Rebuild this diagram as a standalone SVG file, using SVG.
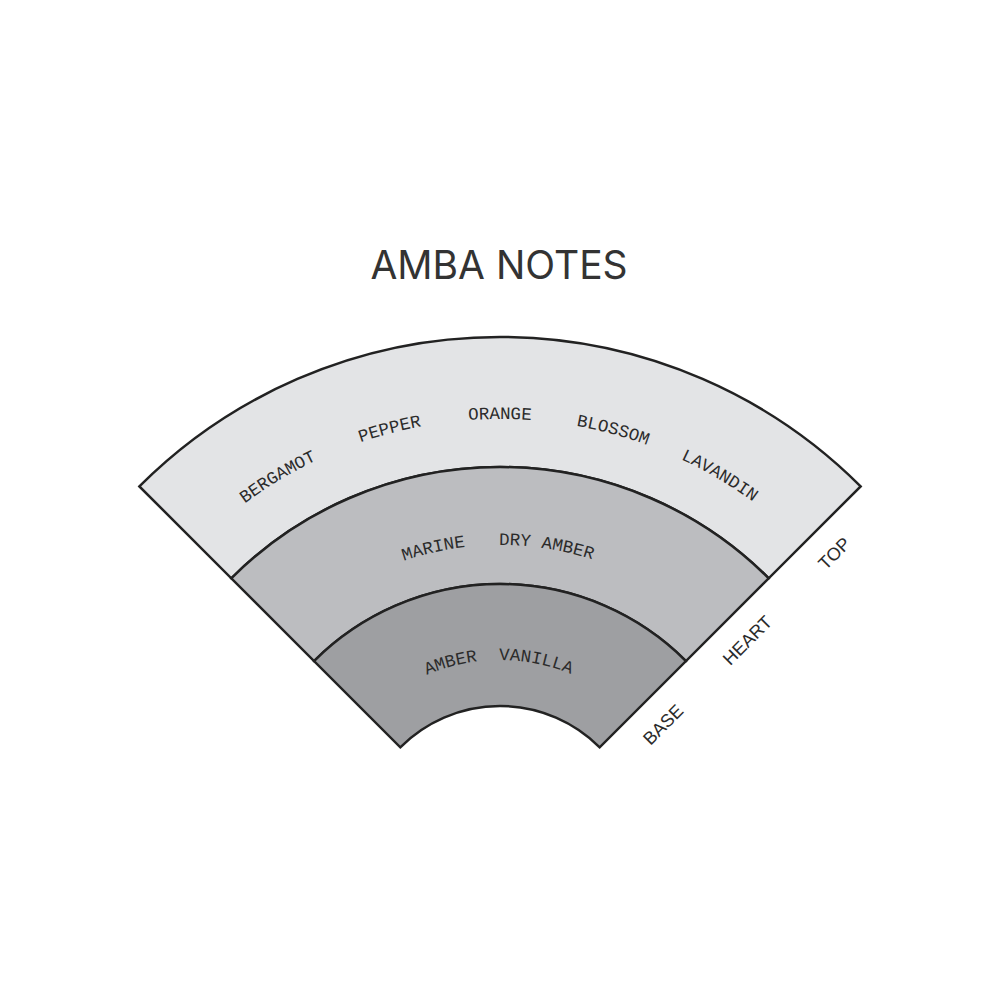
<svg xmlns="http://www.w3.org/2000/svg" xmlns:xlink="http://www.w3.org/1999/xlink" width="1000" height="1000" viewBox="0 0 1000 1000">
  <style>
    .band { stroke: #222; stroke-width: 2.5; stroke-linejoin: miter; }
    .note { font-family: "Liberation Mono", "DejaVu Sans Mono", monospace; font-size: 17.5px; fill: #2b2b2b; text-anchor: middle; }
    .layer { font-family: "Liberation Sans", Arial, sans-serif; font-size: 18px; fill: #2b2b2b; text-anchor: middle; }
    .title { font-family: Inter, "Liberation Sans", sans-serif; font-size: 39px; fill: #333; text-anchor: middle; }
  </style>
  <defs>
    <path id="arcTop" d="M 72 847 A 428 428 0 0 1 928 847"/>
    <path id="arcHeart" d="M 198 847 A 302 302 0 0 1 802 847"/>
    <path id="arcBase" d="M 313 847 A 187 187 0 0 1 687 847"/>
  </defs>
  <rect width="1000" height="1000" fill="#fff"/>
  <g id="title">
    <text class="title" x="499" y="279">AMBA NOTES</text>
  </g>
  <g id="top-band">
    <path class="band" fill="#e3e4e6" d="M 139.38 486.38 A 510 510 0 0 1 860.62 486.38 L 768.70 578.30 A 380 380 0 0 0 231.30 578.30 Z"/>
    <text class="note"><textPath xlink:href="#arcTop" href="#arcTop" startOffset="32.78%">BERGAMOT</textPath></text>
    <text class="note"><textPath xlink:href="#arcTop" href="#arcTop" startOffset="41.78%">PEPPER</textPath></text>
    <text class="note"><textPath xlink:href="#arcTop" href="#arcTop" startOffset="50%">ORANGE</textPath></text>
    <text class="note"><textPath xlink:href="#arcTop" href="#arcTop" startOffset="58.44%">BLOSSOM</textPath></text>
    <text class="note"><textPath xlink:href="#arcTop" href="#arcTop" startOffset="67%">LAVANDIN</textPath></text>
  </g>
  <g id="heart-band">
    <path class="band" fill="#bcbdc0" d="M 231.30 578.30 A 380 380 0 0 1 768.70 578.30 L 685.97 661.03 A 263 263 0 0 0 314.03 661.03 Z"/>
    <text class="note"><textPath xlink:href="#arcHeart" href="#arcHeart" startOffset="43%">MARINE</textPath></text>
    <text class="note"><textPath xlink:href="#arcHeart" href="#arcHeart" startOffset="54.89%">DRY AMBER</textPath></text>
  </g>
  <g id="base-band">
    <path class="band" fill="#9e9fa2" d="M 314.03 661.03 A 263 263 0 0 1 685.97 661.03 L 599.70 747.30 A 141 141 0 0 0 400.30 747.30 Z"/>
    <text class="note"><textPath xlink:href="#arcBase" href="#arcBase" startOffset="41.67%">AMBER</textPath></text>
    <text class="note"><textPath xlink:href="#arcBase" href="#arcBase" startOffset="56.11%">VANILLA</textPath></text>
  </g>
  <g id="layer-labels" transform="translate(500,847) rotate(-45)">
    <text class="layer" x="444" y="35">TOP</text>
    <text class="layer" x="321" y="35">HEART</text>
    <text class="layer" x="202" y="35">BASE</text>
  </g>
</svg>
